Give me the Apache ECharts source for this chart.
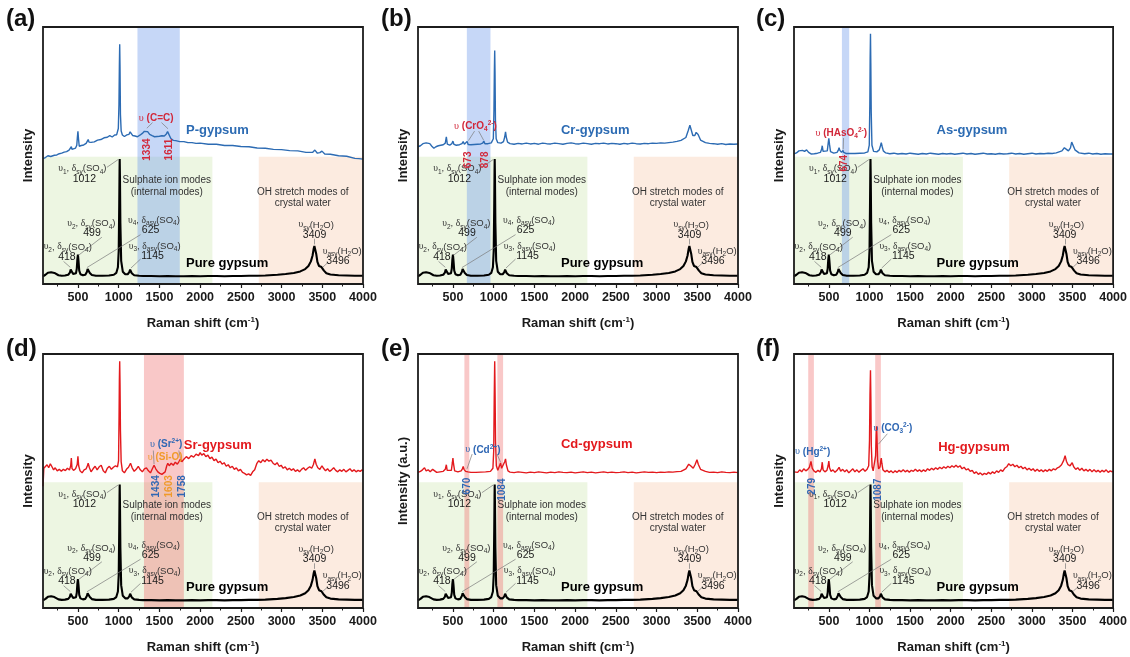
<!DOCTYPE html>
<html>
<head>
<meta charset="utf-8">
<script src="https://cdn.jsdelivr.net/npm/echarts@6/dist/echarts.min.js"></script>
<style>
html, body { margin: 0; padding: 0; background: #fff; }
#chart { width: 1130px; height: 657px; }
</style>
</head>
<body>
<div id="chart"></div>
<script>
// ---------------------------------------------------------------------------
// Raman spectra: [Raman shift (cm-1), relative intensity (% of panel height)]
// ---------------------------------------------------------------------------

// Reference spectrum of pure gypsum (same trace in every panel)
const pureGypsum = [
  [70, 3.0], [100, 3.6], [130, 4.4], [150, 4.2], [170, 4.6], [190, 4.0], [210, 4.3], [230, 3.8],
  [260, 3.4], [300, 3.2], [340, 3.3], [380, 3.6], [400, 4.4], [410, 5.6], [418, 6.3], [426, 5.4],
  [440, 3.9], [460, 3.6], [475, 4.2], [485, 6.0], [492, 9.5], [499, 11.4], [506, 9.0], [515, 5.2],
  [530, 3.8], [560, 3.4], [590, 3.6], [610, 4.8], [618, 5.8], [625, 6.2], [633, 5.5], [645, 4.3],
  [670, 3.5], [720, 3.2], [800, 3.2], [880, 3.3], [940, 3.6], [970, 4.3], [990, 6.5], [1000, 13.0],
  [1006, 30.0], [1010, 44.0], [1012, 48.6], [1015, 42.0], [1020, 24.0], [1030, 9.0], [1050, 4.8],
  [1080, 3.8], [1110, 3.8], [1130, 4.6], [1140, 5.6], [1145, 5.9], [1150, 5.4], [1160, 4.2],
  [1190, 3.4], [1250, 3.2], [1300, 3.1], [1400, 3.1], [1500, 3.0], [1600, 3.1], [1700, 3.0],
  [1800, 3.0], [1900, 3.1], [2000, 3.0], [2100, 3.1], [2200, 3.1], [2300, 3.0], [2400, 3.1],
  [2500, 3.1], [2600, 3.2], [2700, 3.2], [2800, 3.3], [2950, 3.6], [3050, 3.9], [3150, 4.3],
  [3230, 4.9], [3290, 5.8], [3330, 7.0], [3360, 8.8], [3380, 11.0], [3395, 13.8], [3403, 14.8],
  [3409, 15.0], [3415, 14.2], [3425, 11.8], [3440, 8.6], [3460, 7.0], [3480, 6.5], [3490, 6.6],
  [3496, 6.7], [3505, 6.2], [3520, 5.2], [3550, 4.2], [3600, 3.7], [3700, 3.4], [3800, 3.3],
  [3900, 3.2], [4000, 3.2]
];

// P-doped gypsum
const pGypsum = [
  [70, 48.8], [100, 49.2], [130, 49.9], [150, 50.5], [165, 49.6], [185, 49.5], [210, 50.1],
  [240, 50.2], [270, 50.7], [300, 50.9], [330, 51.3], [360, 51.5], [390, 52.1], [410, 52.6],
  [418, 53.4], [426, 52.4], [445, 52.7], [470, 52.9], [485, 54.0], [492, 57.0], [499, 59.4],
  [506, 56.5], [515, 53.6], [540, 53.9], [570, 54.1], [600, 54.7], [615, 55.4], [625, 56.2],
  [635, 55.2], [660, 55.1], [700, 55.3], [740, 56.0], [780, 56.2], [820, 56.9], [860, 57.1],
  [890, 57.7], [920, 57.2], [950, 58.0], [975, 58.1], [995, 60.5], [1003, 70.0], [1008, 85.0],
  [1012, 93.3], [1016, 84.0], [1021, 66.0], [1030, 59.5], [1045, 58.0], [1070, 57.4],
  [1100, 58.0], [1125, 58.2], [1140, 59.2], [1145, 59.6], [1152, 58.8], [1170, 57.8],
  [1200, 57.6], [1230, 57.3], [1260, 57.9], [1290, 58.6], [1315, 59.4], [1334, 59.9],
  [1355, 59.3], [1380, 58.2], [1410, 57.7], [1440, 57.3], [1470, 57.4], [1500, 57.5],
  [1530, 57.7], [1560, 57.6], [1585, 58.4], [1600, 59.3], [1611, 59.7], [1622, 58.6],
  [1640, 56.6], [1670, 55.9], [1700, 55.8], [1750, 55.4], [1800, 55.4], [1850, 55.0],
  [1900, 55.0], [1950, 54.7], [2000, 54.8], [2100, 54.4], [2200, 54.4], [2300, 53.9],
  [2400, 53.9], [2500, 53.5], [2600, 53.4], [2700, 52.9], [2800, 52.8], [2900, 52.4],
  [3000, 52.3], [3100, 51.9], [3200, 51.8], [3300, 51.2], [3380, 51.2], [3409, 52.1],
  [3440, 50.9], [3470, 51.1], [3496, 51.7], [3530, 50.6], [3600, 50.5], [3700, 49.9],
  [3800, 49.7], [3900, 48.9], [3950, 48.8], [4000, 48.6]
];

// Cr-doped gypsum
const crGypsum = [
  [70, 53.4], [100, 53.8], [130, 54.6], [150, 54.3], [170, 54.9], [190, 54.2], [215, 54.6],
  [240, 53.6], [265, 52.8], [290, 53.4], [320, 53.8], [350, 54.0], [380, 54.2], [405, 54.8],
  [418, 57.3], [430, 54.4], [460, 54.0], [485, 54.6], [499, 55.6], [512, 54.3], [540, 54.0],
  [580, 54.2], [610, 54.6], [625, 55.4], [640, 54.4], [660, 54.5], [673, 55.5], [686, 54.3],
  [720, 54.2], [760, 54.3], [800, 54.4], [840, 54.5], [865, 54.8], [878, 55.6], [892, 54.6],
  [930, 54.6], [970, 54.9], [995, 56.5], [1003, 68.0], [1008, 83.0], [1012, 90.9], [1016, 82.0],
  [1021, 64.0], [1030, 56.5], [1050, 55.0], [1090, 54.8], [1120, 55.4], [1135, 57.2],
  [1145, 59.2], [1155, 57.0], [1170, 55.2], [1200, 54.6], [1250, 54.4], [1300, 54.7],
  [1350, 54.5], [1400, 54.8], [1450, 54.5], [1500, 54.7], [1550, 54.4], [1600, 54.8],
  [1650, 54.6], [1700, 54.5], [1750, 54.8], [1800, 54.6], [1850, 54.4], [1900, 54.7],
  [1950, 54.9], [2000, 54.6], [2050, 54.5], [2100, 54.8], [2150, 54.6], [2200, 54.4],
  [2250, 54.7], [2300, 54.6], [2350, 54.8], [2400, 54.5], [2450, 54.7], [2500, 54.6],
  [2550, 54.4], [2600, 54.7], [2650, 54.5], [2700, 54.8], [2750, 54.6], [2800, 54.5],
  [2850, 54.7], [2900, 54.6], [2950, 54.8], [3000, 54.7], [3050, 54.9], [3100, 54.8],
  [3150, 55.0], [3200, 55.2], [3250, 55.5], [3300, 55.9], [3360, 57.0], [3390, 59.8],
  [3409, 61.8], [3425, 60.0], [3445, 57.8], [3470, 57.8], [3486, 59.0], [3496, 59.5],
  [3510, 58.2], [3540, 56.0], [3600, 55.0], [3650, 54.7], [3700, 54.6], [3750, 54.4],
  [3800, 54.6], [3850, 54.3], [3900, 54.5], [3950, 54.4], [4000, 54.5]
];

// As-doped gypsum
const asGypsum = [
  [70, 50.6], [100, 51.0], [130, 51.8], [150, 51.4], [175, 52.0], [200, 51.6], [225, 52.2],
  [250, 51.2], [280, 50.6], [320, 50.7], [360, 50.9], [395, 51.2], [410, 52.4], [418, 53.8],
  [428, 51.6], [450, 51.0], [480, 51.8], [492, 55.0], [499, 56.7], [507, 54.4], [520, 51.5],
  [560, 50.9], [600, 51.2], [615, 52.0], [625, 53.0], [635, 52.0], [655, 51.2], [668, 51.6],
  [674, 52.0], [682, 51.2], [710, 50.8], [760, 50.8], [820, 50.8], [880, 50.9], [940, 51.0],
  [980, 51.4], [997, 54.0], [1004, 70.0], [1008, 88.0], [1012, 97.4], [1016, 86.0], [1021, 67.0],
  [1030, 54.0], [1050, 51.6], [1090, 51.4], [1120, 52.2], [1135, 53.8], [1145, 55.0],
  [1155, 53.6], [1170, 51.8], [1200, 51.0], [1250, 50.7], [1300, 50.9], [1350, 50.6],
  [1400, 50.8], [1450, 50.6], [1500, 50.9], [1550, 50.7], [1600, 50.5], [1650, 50.8],
  [1700, 50.6], [1750, 50.9], [1800, 50.7], [1850, 50.5], [1900, 50.8], [1950, 50.6],
  [2000, 50.8], [2050, 50.5], [2100, 50.7], [2150, 50.9], [2200, 50.6], [2250, 50.8],
  [2300, 50.5], [2350, 50.7], [2400, 50.9], [2450, 50.6], [2500, 50.7], [2550, 50.5],
  [2600, 50.8], [2650, 50.6], [2700, 50.7], [2750, 50.9], [2800, 50.6], [2850, 50.8],
  [2900, 50.5], [2950, 50.7], [3000, 50.9], [3050, 50.6], [3100, 50.8], [3150, 50.7],
  [3200, 50.9], [3250, 50.8], [3300, 51.0], [3370, 51.8], [3400, 53.0], [3409, 53.4],
  [3425, 52.4], [3450, 51.8], [3475, 53.0], [3490, 55.2], [3496, 55.8], [3505, 54.6],
  [3530, 52.2], [3580, 51.0], [3650, 50.7], [3700, 50.9], [3750, 50.6], [3800, 50.8],
  [3850, 50.5], [3900, 50.7], [3950, 50.6], [4000, 50.6]
];

// Sr-doped gypsum
const srGypsum = [
  [70, 47.9], [80, 55.0], [100, 55.7], [120, 56.4], [140, 55.2], [160, 56.8], [180, 55.6],
  [200, 54.4], [220, 55.2], [245, 54.0], [270, 54.6], [295, 53.8], [320, 54.6], [345, 54.1],
  [370, 55.0], [395, 54.3], [410, 56.0], [418, 59.0], [426, 55.0], [445, 54.2], [470, 54.8],
  [490, 56.5], [499, 59.7], [508, 56.0], [525, 54.0], [550, 53.2], [575, 54.4], [600, 54.8],
  [615, 56.0], [625, 57.0], [640, 55.2], [660, 53.6], [685, 54.8], [710, 55.8], [735, 54.4],
  [760, 55.6], [785, 56.2], [810, 54.0], [835, 53.2], [860, 55.0], [885, 55.8], [910, 54.6],
  [935, 55.4], [960, 56.0], [985, 55.6], [998, 58.0], [1004, 75.0], [1008, 90.0], [1012, 97.1],
  [1016, 88.0], [1021, 70.0], [1030, 57.5], [1045, 54.0], [1070, 53.2], [1095, 54.6],
  [1120, 55.4], [1145, 57.0], [1165, 55.2], [1190, 53.8], [1215, 54.6], [1240, 55.8],
  [1265, 54.4], [1290, 53.6], [1315, 54.8], [1340, 55.2], [1365, 54.0], [1390, 53.2],
  [1410, 54.6], [1434, 56.2], [1455, 54.8], [1480, 53.6], [1505, 53.0], [1530, 52.6],
  [1550, 52.2], [1570, 53.6], [1590, 56.0], [1603, 57.0], [1620, 56.0], [1645, 57.0],
  [1670, 56.2], [1695, 57.4], [1720, 56.6], [1740, 57.6], [1758, 58.6], [1775, 57.6],
  [1800, 58.6], [1830, 59.6], [1860, 58.8], [1890, 60.0], [1920, 59.4], [1950, 60.6],
  [1980, 60.0], [2000, 61.2], [2020, 60.2], [2045, 60.8], [2070, 59.6], [2095, 60.2],
  [2120, 58.8], [2145, 59.4], [2170, 58.0], [2195, 58.6], [2220, 57.2], [2245, 57.8],
  [2270, 56.6], [2295, 57.2], [2320, 55.8], [2345, 56.4], [2370, 55.2], [2395, 55.8],
  [2420, 54.6], [2445, 55.2], [2470, 54.0], [2495, 54.6], [2520, 53.4], [2545, 53.0],
  [2570, 52.4], [2595, 52.8], [2620, 52.2], [2645, 53.6], [2670, 54.4], [2695, 56.8],
  [2720, 58.0], [2745, 57.2], [2770, 58.4], [2795, 57.6], [2820, 58.6], [2845, 57.8],
  [2870, 58.2], [2895, 57.0], [2920, 56.4], [2945, 57.2], [2970, 55.8], [2995, 56.2],
  [3020, 55.0], [3045, 55.6], [3070, 54.4], [3095, 55.0], [3120, 54.2], [3145, 54.8],
  [3170, 53.8], [3195, 54.4], [3220, 53.6], [3245, 54.6], [3270, 55.2], [3295, 54.2],
  [3320, 55.0], [3345, 55.6], [3370, 55.0], [3390, 56.4], [3409, 58.7], [3425, 56.6],
  [3445, 55.2], [3470, 54.6], [3496, 56.0], [3515, 55.0], [3540, 54.0], [3565, 54.8],
  [3590, 53.8], [3615, 54.4], [3640, 55.2], [3665, 54.2], [3690, 53.6], [3715, 54.4],
  [3740, 53.8], [3765, 54.6], [3790, 53.6], [3815, 54.2], [3840, 54.8], [3865, 53.8],
  [3890, 54.4], [3915, 53.6], [3940, 54.2], [3965, 53.8], [3990, 54.4], [4000, 54.0]
];

// Cd-doped gypsum
const cdGypsum = [
  [70, 53.4], [100, 53.8], [125, 54.4], [150, 55.2], [170, 54.0], [195, 54.4], [220, 53.6],
  [250, 54.6], [270, 54.0], [300, 53.4], [340, 53.6], [380, 53.8], [405, 54.6], [418, 56.4],
  [428, 54.2], [450, 53.6], [480, 54.2], [492, 57.2], [499, 59.0], [506, 56.8], [520, 54.0],
  [560, 53.6], [600, 54.0], [615, 54.8], [625, 55.7], [635, 54.6], [655, 53.8], [670, 54.4],
  [685, 53.6], [720, 53.4], [780, 53.4], [840, 53.5], [900, 53.6], [960, 53.8], [990, 55.0],
  [1000, 62.0], [1006, 82.0], [1012, 97.1], [1017, 84.0], [1022, 66.0], [1032, 56.0],
  [1050, 54.2], [1070, 54.8], [1084, 57.1], [1097, 55.0], [1115, 55.4], [1135, 57.6],
  [1145, 58.7], [1155, 56.4], [1175, 54.0], [1200, 53.5], [1250, 53.3], [1300, 53.6],
  [1350, 53.4], [1400, 53.2], [1450, 53.5], [1500, 53.3], [1550, 53.6], [1600, 53.4],
  [1650, 53.2], [1700, 53.5], [1750, 53.3], [1800, 53.6], [1850, 53.4], [1900, 53.3],
  [1950, 53.5], [2000, 53.2], [2050, 53.4], [2100, 53.6], [2150, 53.3], [2200, 53.5],
  [2250, 53.2], [2300, 53.4], [2350, 53.6], [2400, 53.3], [2450, 53.5], [2500, 53.3],
  [2550, 53.4], [2600, 53.6], [2650, 53.3], [2700, 53.5], [2750, 53.2], [2800, 53.4],
  [2850, 53.6], [2900, 53.4], [2950, 53.5], [3000, 53.3], [3050, 53.5], [3100, 53.4],
  [3150, 53.6], [3200, 53.5], [3250, 53.7], [3300, 53.8], [3360, 54.8], [3395, 56.6],
  [3409, 57.3], [3425, 55.8], [3450, 55.0], [3475, 56.6], [3496, 58.4], [3512, 56.6],
  [3540, 54.6], [3600, 53.8], [3650, 53.4], [3700, 53.5], [3750, 53.3], [3800, 53.6],
  [3850, 53.4], [3900, 53.3], [3950, 53.5], [4000, 53.3]
];

// Hg-doped gypsum
const hgGypsum = [
  [70, 53.6], [90, 54.2], [115, 53.4], [140, 54.4], [165, 53.6], [190, 54.8], [215, 54.0],
  [240, 54.6], [260, 55.4], [279, 57.7], [295, 55.0], [315, 54.0], [340, 53.4], [365, 54.2],
  [390, 53.6], [408, 54.8], [418, 57.4], [428, 54.4], [450, 53.6], [475, 54.2], [490, 56.0],
  [499, 57.8], [508, 55.2], [525, 53.8], [550, 54.4], [575, 53.4], [600, 54.2], [625, 55.4],
  [645, 53.8], [670, 54.6], [695, 53.6], [720, 54.4], [745, 53.2], [770, 54.0], [795, 54.8],
  [820, 53.6], [845, 54.4], [870, 53.4], [895, 54.2], [920, 54.8], [945, 53.8], [970, 54.6],
  [990, 56.0], [1000, 66.0], [1006, 84.0], [1012, 93.6], [1017, 82.0], [1022, 64.0],
  [1032, 55.6], [1045, 54.0], [1060, 54.6], [1075, 60.0], [1082, 68.0], [1087, 71.5],
  [1092, 67.0], [1100, 58.0], [1112, 54.8], [1130, 55.6], [1140, 58.2], [1145, 59.0],
  [1152, 57.0], [1165, 54.4], [1190, 53.6], [1215, 54.2], [1240, 53.4], [1265, 54.0],
  [1290, 53.2], [1315, 54.0], [1340, 53.4], [1365, 54.2], [1390, 53.6], [1415, 54.4],
  [1440, 53.6], [1465, 54.2], [1490, 53.4], [1515, 54.2], [1540, 53.8], [1565, 54.6],
  [1590, 53.8], [1615, 54.4], [1640, 53.6], [1665, 54.4], [1690, 53.8], [1715, 54.8],
  [1740, 54.2], [1765, 55.0], [1790, 54.4], [1815, 55.2], [1840, 54.6], [1865, 55.4],
  [1890, 54.8], [1915, 55.6], [1940, 55.0], [1965, 55.8], [1990, 55.2], [2015, 56.0],
  [2040, 55.4], [2065, 56.2], [2090, 55.4], [2115, 56.0], [2140, 54.8], [2165, 55.4],
  [2190, 54.4], [2215, 54.8], [2240, 53.8], [2265, 54.2], [2290, 53.0], [2315, 53.6],
  [2340, 52.6], [2365, 53.2], [2390, 52.4], [2415, 53.0], [2440, 52.6], [2465, 53.4],
  [2490, 52.8], [2515, 53.6], [2540, 53.0], [2565, 54.0], [2590, 53.4], [2615, 54.4],
  [2640, 53.8], [2665, 55.0], [2690, 55.6], [2715, 56.8], [2740, 56.0], [2765, 56.6],
  [2790, 55.6], [2815, 56.2], [2840, 55.2], [2865, 55.8], [2890, 54.8], [2915, 55.4],
  [2940, 54.4], [2965, 55.0], [2990, 54.2], [3015, 54.8], [3040, 53.8], [3065, 54.6],
  [3090, 53.8], [3115, 54.4], [3140, 53.6], [3165, 54.4], [3190, 53.8], [3215, 54.6],
  [3240, 54.0], [3265, 54.8], [3290, 54.4], [3315, 55.2], [3340, 55.6], [3365, 56.4],
  [3390, 58.0], [3409, 60.0], [3425, 57.8], [3445, 56.4], [3470, 56.0], [3496, 57.2],
  [3515, 55.6], [3540, 54.6], [3565, 55.2], [3590, 54.2], [3615, 55.0], [3640, 54.0],
  [3665, 54.6], [3690, 53.8], [3715, 54.6], [3740, 53.6], [3765, 54.4], [3790, 53.6],
  [3815, 54.2], [3840, 53.4], [3865, 54.2], [3890, 53.6], [3915, 54.4], [3940, 53.4],
  [3965, 54.0], [3990, 53.6], [4000, 54.0]
];

const dopedSpectra = [pGypsum, crGypsum, asGypsum, srGypsum, cdGypsum, hgGypsum];
const dopedNames = ['P-gypsum', 'Cr-gypsum', 'As-gypsum', 'Sr-gypsum', 'Cd-gypsum', 'Hg-gypsum'];
const panelTags = ['(a)', '(b)', '(c)', '(d)', '(e)', '(f)'];
const yAxisNames = ['Intensity', 'Intensity', 'Intensity', 'Intensity', 'Intensity (a.u.)', 'Intensity'];

// Axis ticks (cm-1)
const xTickValues = [500, 1000, 1500, 2000, 2500, 3000, 3500, 4000];
const xMinorTickValues = [250, 750, 1250, 1750, 2250, 2750, 3250, 3750];
const X_MIN = 70, X_MAX = 4000;

// Spectral regions (cm-1)
const sulphateRegion = [70, 2150];
const waterRegion = [2720, 4000];
const impurityBands = [
  [[1230, 1750]],
  [[670, 960]],
  [[660, 750]],
  [[1310, 1800]],
  [[640, 700], [1045, 1115]],
  [[245, 315], [1070, 1140]]
];

// ---------------------------------------------------------------------------
// Styling and layout
// ---------------------------------------------------------------------------
const BLUE = '#2c6bb3';
const RED = '#e3191d';
const NOTE_RED = '#d2283a';
const NOTE_BLUE = '#2f67b4';
const NOTE_ORANGE = '#f09a2a';
const GREEN_FILL = 'rgba(214,236,190,0.45)';
const PEACH_FILL = 'rgba(246,200,168,0.36)';
const BLUE_FILL = 'rgba(120,160,236,0.42)';
const RED_FILL = 'rgba(240,118,118,0.40)';
const dopedColors = [BLUE, BLUE, BLUE, RED, RED, RED];
const bandFills = [BLUE_FILL, BLUE_FILL, BLUE_FILL, RED_FILL, RED_FILL, RED_FILL];

const panelBoxes = [
  [43, 27, 320, 257], [418, 27, 320, 257], [794, 27, 320, 257],
  [43, 354, 320, 254], [418, 354, 320, 254], [794, 354, 320, 254]
];
const tagPositions = [[6, 7], [381, 7], [756, 7], [6, 337], [381, 337], [756, 337]];

const RICH = {
  g: { fontFamily: 'Liberation Serif', fontWeight: 'normal', lineHeight: 13 },
  s: { fontSize: 6.5, verticalAlign: 'bottom', lineHeight: 8 },
  p: { fontSize: 6.5, verticalAlign: 'top', lineHeight: 8 },
  n: { fontSize: 10.5, color: '#1a1a1a', lineHeight: 13 },
  m: { fontSize: 10, color: '#333', lineHeight: 13 }
};

// band assignment text such as  v1, dsy(SO4)
function sulphateMode(order, kind) {
  return '{g|υ}{s|' + order + '}, {g|δ}{s|' + kind + '}(SO{s|4})';
}
function waterMode(kind) {
  return '{g|υ}{s|' + kind + '}(H{s|2}O)';
}

// Annotations of the pure gypsum trace (data coordinates)
const pureNotes = [
  { at: [850, 44.8], text: sulphateMode('1', 'sy'), align: 'right' },
  { at: [578, 41.0], text: '{n|1012}' },
  { at: [960, 23.4], text: sulphateMode('2', 'sy'), align: 'right' },
  { at: [672, 19.8], text: '{n|499}' },
  { at: [1432, 24.7], text: sulphateMode('4', 'asy') },
  { at: [1391, 20.8], text: '{n|625}' },
  { at: [374, 14.4], text: sulphateMode('2', 'sy') },
  { at: [364, 10.5], text: '{n|418}' },
  { at: [1441, 14.6], text: sulphateMode('3', 'asy') },
  { at: [1416, 10.7], text: '{n|1145}' },
  { at: [3425, 23.0], text: waterMode('sy') },
  { at: [3405, 19.1], text: '{n|3409}' },
  { at: [3745, 12.7], text: waterMode('asy') },
  { at: [3693, 8.8], text: '{n|3496}' },
  { at: [1590, 40.5], text: '{m|Sulphate ion modes}' },
  { at: [1590, 35.6], text: '{m|(internal modes)}' },
  { at: [3260, 35.6], text: '{m|OH stretch modes of}' },
  { at: [3260, 31.4], text: '{m|crystal water}' },
  { at: [1826, 8.2], text: 'Pure gypsum', align: 'left', color: '#000', bold: true, size: 13 }
];
const pureLeaders = [
  [[855, 45.4], [992, 48.4]],
  [[793, 18.2], [507, 11.2]],
  [[1268, 19.2], [610, 6.4]],
  [[322, 8.8], [405, 6.5]],
  [[1268, 9.7], [1150, 6.2]],
  [[3405, 17.6], [3405, 15.4]],
  [[3560, 8.1], [3508, 6.6]]
];

// Annotations of the doped traces (data coordinates)
const dopedNotes = [
  [
    { at: [1460, 64.6], text: '{g|υ} (C=C)', color: NOTE_RED, bold: true, size: 10 },
    { at: [1345, 52.3], text: '1334', rotate: 90, color: NOTE_RED, bold: true, size: 10 },
    { at: [1622, 52.3], text: '1611', rotate: 90, color: NOTE_RED, bold: true, size: 10 },
    { at: [1826, 59.7], text: 'P-gypsum', align: 'left', color: BLUE, bold: true, size: 13 }
  ],
  [
    { at: [775, 61.5], text: '{g|υ} (CrO{s|4}{p|2-})', color: NOTE_RED, bold: true, size: 10 },
    { at: [689, 48.3], text: '673', rotate: 90, color: NOTE_RED, bold: true, size: 10 },
    { at: [898, 48.3], text: '878', rotate: 90, color: NOTE_RED, bold: true, size: 10 },
    { at: [1826, 59.7], text: 'Cr-gypsum', align: 'left', color: BLUE, bold: true, size: 13 }
  ],
  [
    { at: [652, 58.6], text: '{g|υ} (HAsO{s|4}{p|2-})', color: NOTE_RED, bold: true, size: 10 },
    { at: [690, 47.0], text: '674', rotate: 90, color: NOTE_RED, bold: true, size: 10 },
    { at: [1826, 59.8], text: 'As-gypsum', align: 'left', color: BLUE, bold: true, size: 13 }
  ],
  [
    { at: [1582, 64.3], text: '{g|υ} (Sr{p|2+})', color: NOTE_BLUE, bold: true, size: 10 },
    { at: [1570, 59.4], text: '{g|υ} (Si-O)', color: NOTE_ORANGE, bold: true, size: 10 },
    { at: [1455, 47.9], text: '1434', rotate: 90, color: NOTE_BLUE, bold: true, size: 10 },
    { at: [1625, 47.9], text: '1603', rotate: 90, color: NOTE_ORANGE, bold: true, size: 10 },
    { at: [1775, 47.9], text: '1758', rotate: 90, color: NOTE_BLUE, bold: true, size: 10 },
    { at: [1800, 63.9], text: 'Sr-gypsum', align: 'left', color: RED, bold: true, size: 13 }
  ],
  [
    { at: [867, 62.3], text: '{g|υ} (Cd{p|2+})', color: NOTE_BLUE, bold: true, size: 10 },
    { at: [676, 48.0], text: '670', rotate: 90, color: NOTE_BLUE, bold: true, size: 10 },
    { at: [1110, 46.6], text: '1084', rotate: 90, color: NOTE_BLUE, bold: true, size: 10 },
    { at: [1826, 64.3], text: 'Cd-gypsum', align: 'left', color: RED, bold: true, size: 13 }
  ],
  [
    { at: [300, 61.5], text: '{g|υ} (Hg{p|2+})', color: NOTE_BLUE, bold: true, size: 10 },
    { at: [1287, 70.8], text: '{g|υ} (CO{s|3}{p|2-})', color: NOTE_BLUE, bold: true, size: 10 },
    { at: [300, 47.9], text: '279', rotate: 90, color: NOTE_BLUE, bold: true, size: 10 },
    { at: [1110, 46.6], text: '1087', rotate: 90, color: NOTE_BLUE, bold: true, size: 10 },
    { at: [1846, 63.4], text: 'Hg-gypsum', align: 'left', color: RED, bold: true, size: 13 }
  ]
];
const dopedLeaders = [
  [[[1415, 62.8], [1345, 60.6]], [[1525, 62.8], [1605, 60.4]]],
  [[[765, 59.5], [690, 55.8]], [[815, 59.5], [875, 56.0]]],
  [[[680, 56.8], [676, 52.4]]],
  [[[1425, 62.0], [1434, 56.6]], [[1738, 62.0], [1758, 58.9]]],
  [[[735, 60.6], [672, 54.8]], [[1040, 60.6], [1084, 57.4]]],
  [[[1220, 68.6], [1110, 64.5]]]
];

// ---------------------------------------------------------------------------
// Option builders
// ---------------------------------------------------------------------------
function notePoint(n) {
  return {
    coord: n.at,
    symbol: 'circle',
    symbolSize: 0,
    itemStyle: { color: 'rgba(0,0,0,0)' },
    label: {
      show: true,
      position: 'inside',
      formatter: n.text,
      align: n.align || 'center',
      verticalAlign: 'middle',
      rotate: n.rotate || 0,
      color: n.color || '#333',
      fontSize: n.size || 9.5,
      fontWeight: n.bold ? 'bold' : 'normal',
      fontFamily: 'Liberation Sans',
      lineHeight: 13,
      rich: RICH
    }
  };
}
function leaderLines(list) {
  return {
    silent: true,
    symbol: ['none', 'none'],
    label: { show: false },
    lineStyle: { color: '#7a7a7a', width: 0.7, type: 'solid' },
    emphasis: { disabled: true },
    data: list.map(function (seg) { return [{ coord: seg[0] }, { coord: seg[1] }]; })
  };
}
function notesMarker(list) {
  return { silent: true, animation: false, data: list.map(notePoint) };
}

const grids = [], xAxes = [], yAxes = [], series = [];

panelBoxes.forEach(function (box, i) {
  grids.push({
    left: box[0], top: box[1], width: box[2], height: box[3],
    show: true, z: 10, backgroundColor: 'rgba(0,0,0,0)',
    borderColor: '#1c1c1c', borderWidth: 1.8
  });

  xAxes.push({
    type: 'value', gridIndex: i, min: X_MIN, max: X_MAX, position: 'bottom',
    axisLine: { show: false },
    splitLine: { show: false },
    axisTick: { show: true, inside: false, length: 4, customValues: xTickValues,
      lineStyle: { color: '#1c1c1c', width: 1.2 } },
    axisLabel: { show: true, customValues: xTickValues, margin: 7, fontSize: 12.5,
      fontWeight: 'bold', color: '#1a1a1a', fontFamily: 'Liberation Sans',
      formatter: function (v) { return String(v); } },
    name: '{b|Raman shift (cm}{u|-1}{b|)}',
    nameLocation: 'middle',
    nameGap: 32,
    nameTextStyle: {
      fontSize: 13, fontWeight: 'bold', color: '#1a1a1a', fontFamily: 'Liberation Sans',
      rich: { b: { lineHeight: 15 }, u: { fontSize: 8, verticalAlign: 'top', lineHeight: 8 } }
    }
  });
  xAxes.push({
    type: 'value', gridIndex: i, min: X_MIN, max: X_MAX, position: 'bottom',
    axisLine: { show: false },
    splitLine: { show: false },
    axisLabel: { show: false },
    axisTick: { show: true, inside: false, length: 2.5, customValues: xMinorTickValues,
      lineStyle: { color: '#1c1c1c', width: 1 } }
  });

  yAxes.push({
    type: 'value', gridIndex: i, min: 0, max: 100,
    axisLine: { show: false }, axisTick: { show: false }, axisLabel: { show: false },
    splitLine: { show: false },
    name: yAxisNames[i], nameLocation: 'middle', nameGap: 8,
    nameTextStyle: { fontSize: 13, fontWeight: 'bold', color: '#1a1a1a', fontFamily: 'Liberation Sans' }
  });

  // shaded spectral regions
  const areas = [
    [{ coord: [sulphateRegion[0], 0], itemStyle: { color: GREEN_FILL } }, { coord: [sulphateRegion[1], 49.5] }],
    [{ coord: [waterRegion[0], 0], itemStyle: { color: PEACH_FILL } }, { coord: [waterRegion[1], 49.5] }]
  ];
  impurityBands[i].forEach(function (b) {
    areas.push([{ xAxis: b[0], itemStyle: { color: bandFills[i] } }, { xAxis: b[1] }]);
  });
  series.push({
    type: 'line', name: 'regions', xAxisIndex: 2 * i, yAxisIndex: i,
    data: [], z: 1, silent: true,
    markArea: { silent: true, data: areas }
  });

  series.push({
    type: 'line', name: 'Pure gypsum', xAxisIndex: 2 * i, yAxisIndex: i,
    data: pureGypsum, showSymbol: false, smooth: false, z: 3,
    lineStyle: { color: '#000', width: 2.1 },
    markLine: leaderLines(pureLeaders),
    markPoint: notesMarker(pureNotes)
  });

  series.push({
    type: 'line', name: dopedNames[i], xAxisIndex: 2 * i, yAxisIndex: i,
    data: dopedSpectra[i], showSymbol: false, smooth: false, z: 4,
    lineStyle: { color: dopedColors[i], width: 1.4 },
    markLine: leaderLines(dopedLeaders[i]),
    markPoint: notesMarker(dopedNotes[i])
  });
});

const option = {
  animation: false,
  backgroundColor: '#fff',
  textStyle: { fontFamily: 'Liberation Sans' },
  grid: grids,
  xAxis: xAxes,
  yAxis: yAxes,
  series: series,
  graphic: panelTags.map(function (t, i) {
    return {
      type: 'text', left: tagPositions[i][0], top: tagPositions[i][1], silent: true,
      style: { text: t, font: 'bold 24px "Liberation Sans"', fill: '#111' }
    };
  })
};

const chart = echarts.init(document.getElementById('chart'));
chart.setOption(option);
</script>
</body>
</html>
